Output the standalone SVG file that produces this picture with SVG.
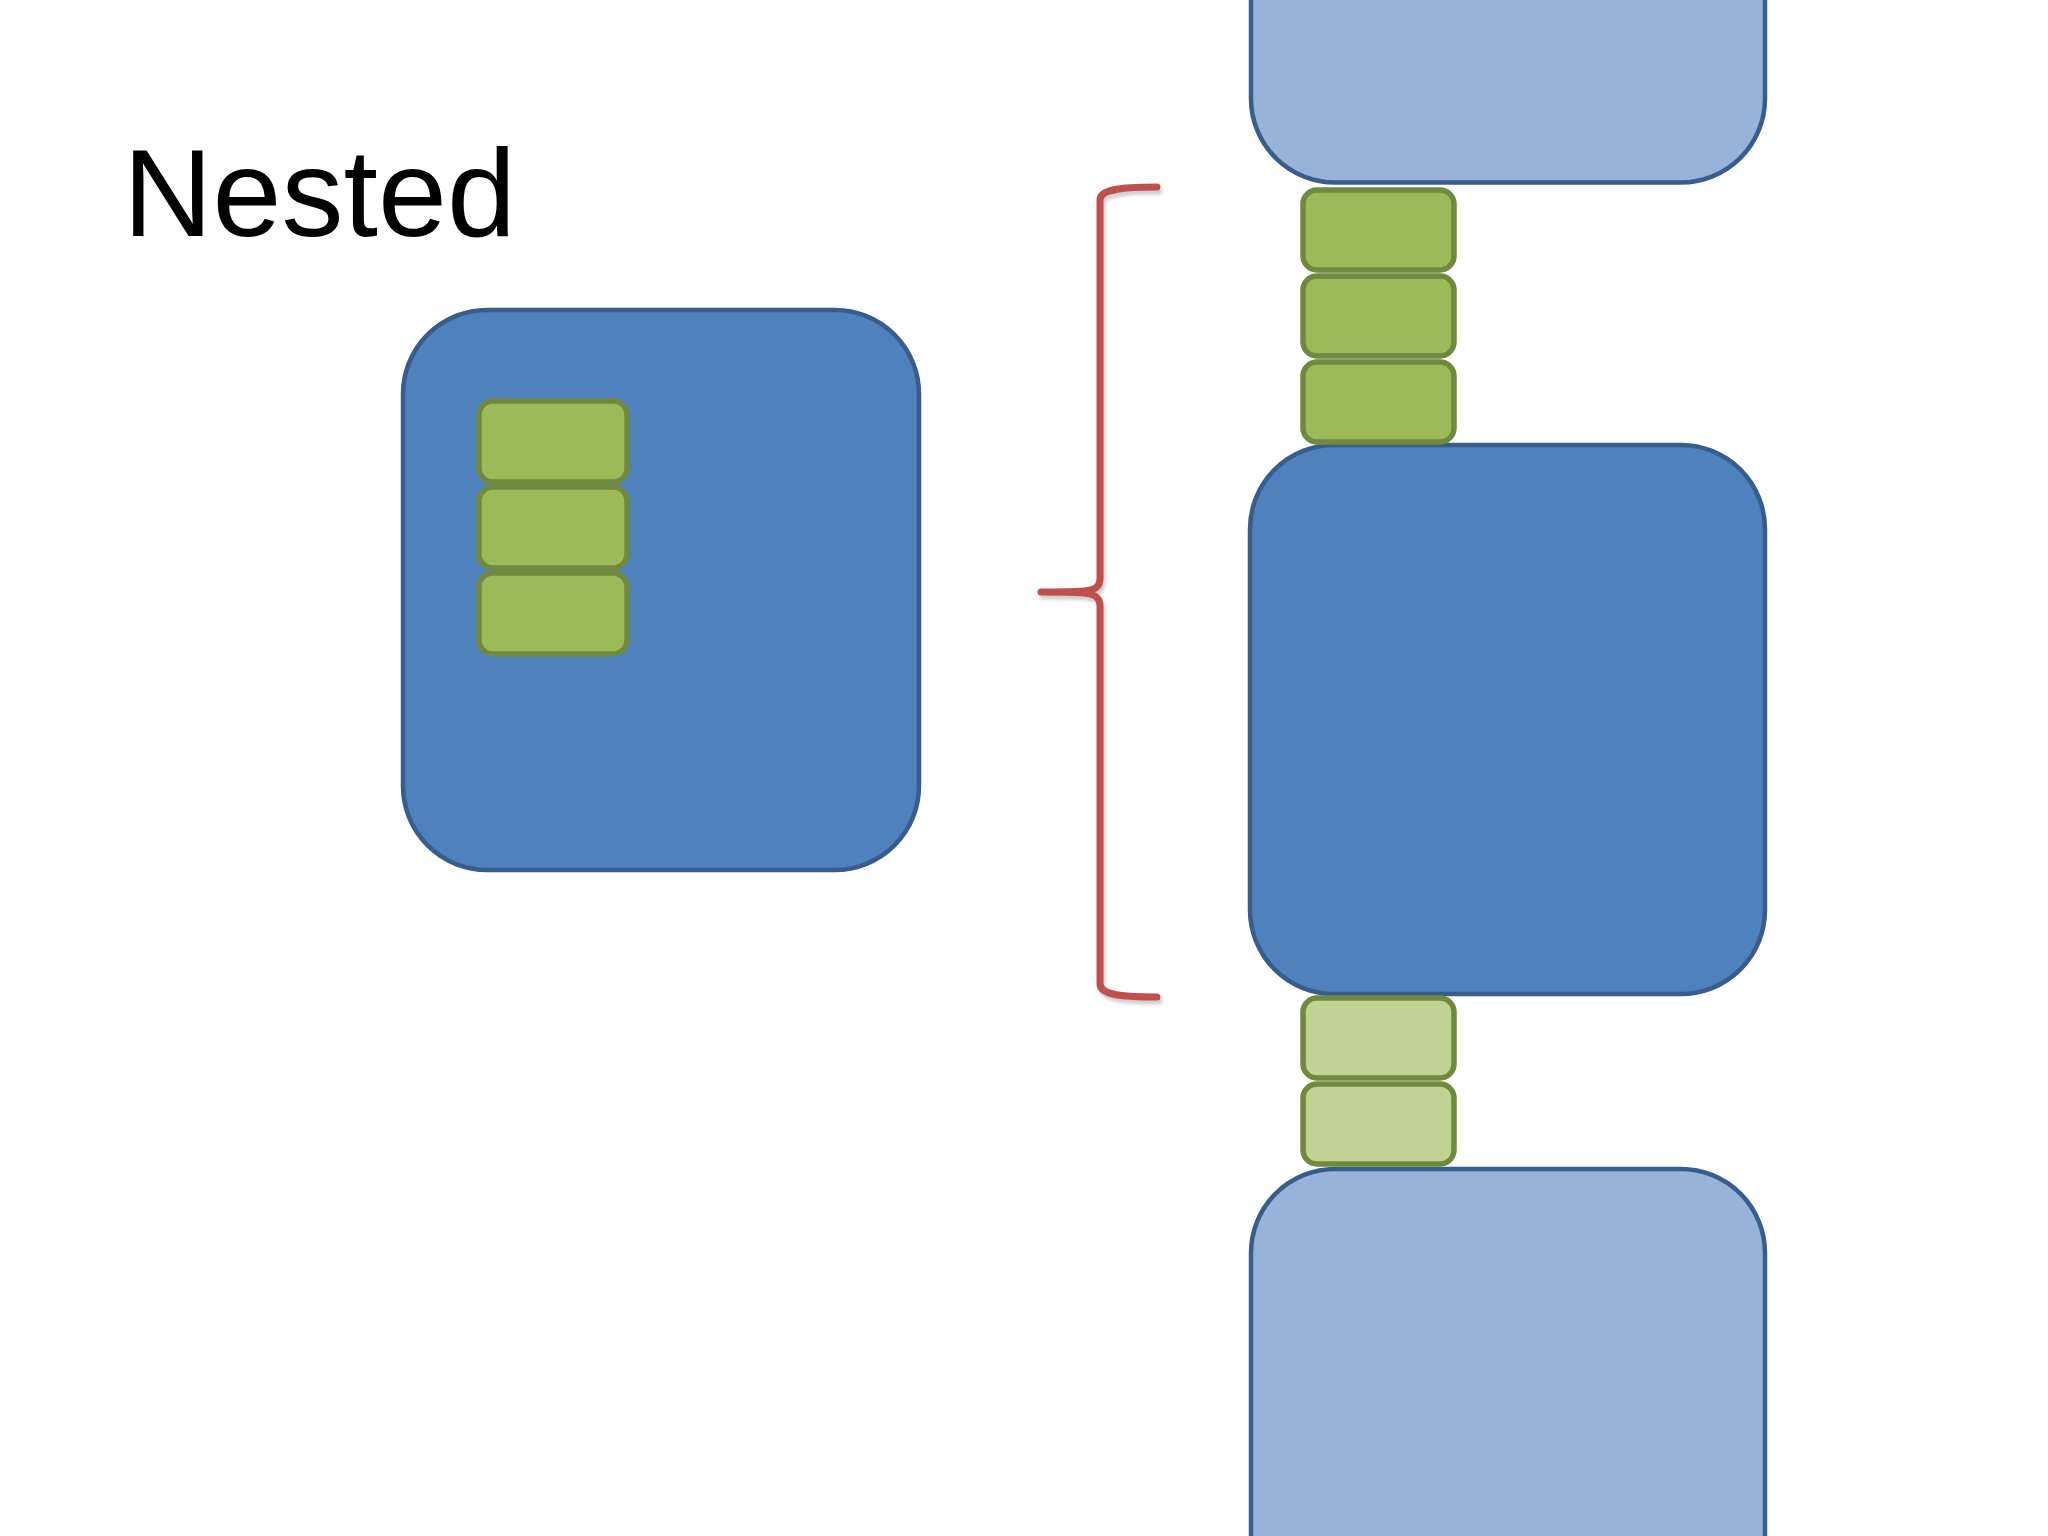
<svg xmlns="http://www.w3.org/2000/svg" width="2048" height="1536" viewBox="0 0 2048 1536">
  <defs>
    <style>
      .title { font-family: "Liberation Sans", Arial, sans-serif; font-size: 124px; fill: #000000; }
      .blue { fill: #4F81BD; stroke: #385D8A; stroke-width: 4.5; }
      .lightblue { fill: #97B3D9; stroke: #385D8A; stroke-width: 4.5; }
      .green { fill: #9BBB59; stroke: #71893F; stroke-width: 5.5; }
      .lightgreen { fill: #C0D392; stroke: #71893F; stroke-width: 5.5; }
      .brace { fill: none; stroke: #C0504D; stroke-width: 7; stroke-linecap: round; stroke-linejoin: round; }
      .brace-shadow { fill: none; stroke: #000000; stroke-opacity: 0.18; stroke-width: 7; stroke-linecap: round; stroke-linejoin: round; }
    </style>
    <filter id="soft" x="-10%" y="-10%" width="120%" height="120%">
      <feGaussianBlur stdDeviation="1.5"/>
    </filter>
  </defs>
  <rect x="0" y="0" width="2048" height="1536" fill="#FFFFFF"/>

  <g id="title">
    <text class="title" x="123" y="236">Nested</text>
  </g>

  <g id="nested-container">
    <rect class="blue" x="403" y="310" width="516" height="560" rx="84" ry="84"/>
  </g>
  <g id="nested-item-1">
    <rect class="green" x="479" y="401" width="148" height="81" rx="14" ry="14"/>
  </g>
  <g id="nested-item-2">
    <rect class="green" x="479" y="487" width="148" height="81" rx="14" ry="14"/>
  </g>
  <g id="nested-item-3">
    <rect class="green" x="479" y="573" width="148" height="81" rx="14" ry="14"/>
  </g>

  <g id="top-box">
    <rect class="lightblue" x="1251" y="-100" width="514" height="282.5" rx="84" ry="84"/>
  </g>
  <g id="middle-box">
    <rect class="blue" x="1250" y="445" width="515" height="549" rx="84" ry="84"/>
  </g>
  <g id="bottom-box">
    <rect class="lightblue" x="1251" y="1169" width="514" height="500" rx="84" ry="84"/>
  </g>

  <g id="stack-item-1">
    <rect class="green" x="1303" y="190" width="151" height="80" rx="14" ry="14"/>
  </g>
  <g id="stack-item-2">
    <rect class="green" x="1303" y="276" width="151" height="80" rx="14" ry="14"/>
  </g>
  <g id="stack-item-3">
    <rect class="green" x="1303" y="362" width="151" height="80" rx="14" ry="14"/>
  </g>
  <g id="stack-item-4">
    <rect class="lightgreen" x="1303" y="998" width="151" height="80" rx="14" ry="14"/>
  </g>
  <g id="stack-item-5">
    <rect class="lightgreen" x="1303" y="1084" width="151" height="80" rx="14" ry="14"/>
  </g>

  <g id="connectors">
    <path class="brace-shadow" filter="url(#soft)" transform="translate(2,4)" d="M 1157 187 C 1118 187 1100 190 1100 200 L 1100 578 C 1100 588 1094 590 1084 591 C 1068 592 1052 592 1041 592 C 1052 592 1068 592 1084 593 C 1094 594 1100 597 1100 606 L 1100 984 C 1100 994 1118 997 1157 997"/>
    <path class="brace" d="M 1157 187 C 1118 187 1100 190 1100 200 L 1100 578 C 1100 588 1094 590 1084 591 C 1068 592 1052 592 1041 592 C 1052 592 1068 592 1084 593 C 1094 594 1100 597 1100 606 L 1100 984 C 1100 994 1118 997 1157 997"/>
  </g>
</svg>
